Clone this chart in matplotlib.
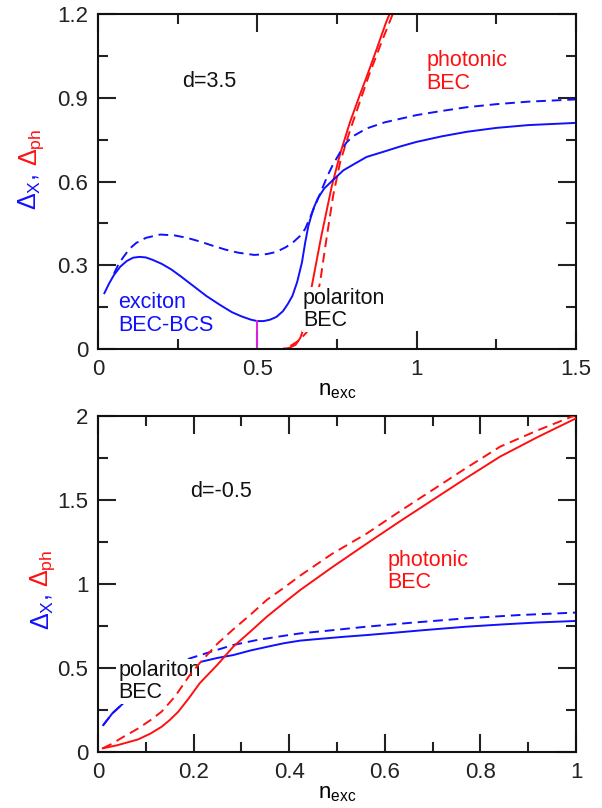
import matplotlib
matplotlib.use("Agg")
import matplotlib.pyplot as plt
from matplotlib.ticker import MultipleLocator, FuncFormatter

plt.rcParams['font.family'] = ['Liberation Sans', 'DejaVu Sans']
plt.rcParams['mathtext.fontset'] = 'custom'
plt.rcParams['mathtext.rm'] = 'Liberation Sans'
plt.rcParams['mathtext.it'] = 'Liberation Sans'
plt.rcParams['mathtext.default'] = 'regular'
# ticks: inward on all four sides
for a in ('xtick', 'ytick'):
    plt.rcParams[a + '.direction'] = 'in'
    plt.rcParams[a + '.major.size'] = 13
    plt.rcParams[a + '.minor.size'] = 7
    plt.rcParams[a + '.major.width'] = 1.5
    plt.rcParams[a + '.minor.width'] = 1.5
    plt.rcParams[a + '.color'] = '#222222'
    plt.rcParams[a + '.labelcolor'] = '#222222'
    plt.rcParams[a + '.labelsize'] = 16
    plt.rcParams[a + '.major.pad'] = 7
plt.rcParams['xtick.top'] = True
plt.rcParams['ytick.right'] = True

BLUE = '#1010ff'
RED = '#ff1010'

# ---------------- top panel (d = 3.5) ----------------
top_bx_solid_x = [0.02, 0.035, 0.05, 0.07, 0.09, 0.11, 0.13, 0.15, 0.17, 0.20, 0.23, 0.26, 0.30,
                  0.34, 0.38, 0.42, 0.45, 0.48, 0.50, 0.52, 0.54, 0.56, 0.58, 0.595, 0.61,
                  0.625, 0.64, 0.65, 0.66, 0.675, 0.69, 0.71, 0.737, 0.77, 0.80, 0.843, 0.90,
                  0.95, 1.0, 1.08, 1.157, 1.25, 1.35, 1.5]
top_bx_solid_y = [0.20, 0.235, 0.265, 0.295, 0.315, 0.327, 0.33, 0.328, 0.32, 0.305, 0.285, 0.26, 0.225,
                  0.19, 0.16, 0.132, 0.117, 0.105, 0.10, 0.10, 0.105, 0.115, 0.135, 0.16, 0.19,
                  0.24, 0.31, 0.38, 0.44, 0.50, 0.54, 0.575, 0.605, 0.64, 0.66, 0.688, 0.708,
                  0.726, 0.742, 0.762, 0.778, 0.792, 0.802, 0.81]

top_bx_dash_x = [0.05, 0.065, 0.08, 0.10, 0.12, 0.15, 0.195, 0.24, 0.28, 0.32, 0.36, 0.40, 0.44,
                 0.49, 0.53, 0.56, 0.59, 0.615, 0.634, 0.65, 0.665, 0.68, 0.70, 0.72, 0.737,
                 0.76, 0.78, 0.80, 0.843, 0.90, 1.0, 1.08, 1.157, 1.25, 1.35, 1.5]
top_bx_dash_y = [0.27, 0.305, 0.33, 0.36, 0.38, 0.398, 0.41, 0.407, 0.398, 0.385, 0.37, 0.356, 0.345,
                 0.337, 0.34, 0.348, 0.365, 0.385, 0.405, 0.43, 0.47, 0.51, 0.565, 0.62, 0.66,
                 0.705, 0.74, 0.762, 0.79, 0.812, 0.838, 0.853, 0.866, 0.877, 0.886, 0.894]

top_ph_solid_x = [0.02, 0.58, 0.60, 0.62, 0.635, 0.65, 0.66, 0.67, 0.70, 0.733, 0.76, 0.79,
                  0.82, 0.843, 0.87, 0.904, 0.915]
top_ph_solid_y = [0.0, 0.0, 0.004, 0.015, 0.04, 0.09, 0.14, 0.22, 0.40, 0.58, 0.70, 0.81,
                  0.905, 0.975, 1.06, 1.17, 1.2]

top_ph_dash_x = [0.02, 0.58, 0.60, 0.63, 0.655, 0.675, 0.697, 0.715, 0.738, 0.76, 0.79, 0.82,
                 0.85, 0.89, 0.925]
top_ph_dash_y = [0.0, 0.0, 0.008, 0.03, 0.06, 0.12, 0.24, 0.38, 0.55, 0.67, 0.78, 0.88,
                 0.98, 1.10, 1.2]

top_mag_x = [0.5, 0.5]
top_mag_y = [0.0, 0.10]

# ---------------- bottom panel (d = -0.5) ----------------
bot_bx_solid_x = [0.011, 0.03, 0.053, 0.10, 0.15, 0.19, 0.22, 0.25, 0.283, 0.32, 0.36, 0.39,
                  0.423, 0.47, 0.52, 0.562, 0.62, 0.68, 0.771, 0.85, 0.92, 1.0]
bot_bx_solid_y = [0.16, 0.23, 0.29, 0.40, 0.48, 0.52, 0.54, 0.56, 0.577, 0.605, 0.63, 0.648,
                  0.663, 0.675, 0.687, 0.696, 0.71, 0.725, 0.746, 0.76, 0.771, 0.78]

bot_bx_dash_x = [0.011, 0.03, 0.053, 0.10, 0.15, 0.192, 0.24, 0.283, 0.33, 0.38, 0.423, 0.48,
                 0.562, 0.65, 0.771, 0.88, 1.0]
bot_bx_dash_y = [0.16, 0.23, 0.29, 0.42, 0.50, 0.557, 0.60, 0.637, 0.665, 0.688, 0.706, 0.722,
                 0.746, 0.768, 0.796, 0.815, 0.83]

bot_ph_solid_x = [0.01, 0.04, 0.084, 0.11, 0.133, 0.15, 0.168, 0.19, 0.213, 0.25, 0.283, 0.32,
                  0.353, 0.39, 0.423, 0.49, 0.562, 0.63, 0.70, 0.77, 0.841, 0.92, 1.0]
bot_ph_solid_y = [0.022, 0.04, 0.075, 0.11, 0.15, 0.19, 0.24, 0.32, 0.41, 0.52, 0.627, 0.72,
                  0.805, 0.89, 0.964, 1.10, 1.24, 1.37, 1.50, 1.63, 1.758, 1.875, 1.986]

bot_ph_dash_x = [0.01, 0.03, 0.05, 0.084, 0.11, 0.133, 0.161, 0.19, 0.213, 0.25, 0.283, 0.32,
                 0.353, 0.39, 0.423, 0.49, 0.562, 0.63, 0.70, 0.77, 0.841, 0.92, 1.0]
bot_ph_dash_y = [0.022, 0.05, 0.085, 0.14, 0.19, 0.24, 0.33, 0.45, 0.53, 0.645, 0.73, 0.82,
                 0.905, 0.98, 1.05, 1.18, 1.30, 1.43, 1.56, 1.69, 1.817, 1.915, 2.006]

fig = plt.figure(figsize=(6.02, 8.08), dpi=100)
ax1 = fig.add_axes([98/602, 1-349/808, 478/602, 335/808])
ax2 = fig.add_axes([98/602, 1-752/808, 478/602, 336/808])

lw = 1.4
dash = (0, (5, 3))

ax1.plot(top_ph_solid_x, top_ph_solid_y, color=RED, lw=lw)
ax1.plot(top_ph_dash_x, top_ph_dash_y, color=RED, lw=lw, linestyle=dash)
ax1.plot(top_bx_solid_x, top_bx_solid_y, color=BLUE, lw=lw)
ax1.plot(top_bx_dash_x, top_bx_dash_y, color=BLUE, lw=lw, linestyle=dash)
ax1.plot(top_mag_x, top_mag_y, color='#e020e0', lw=lw)

ax2.plot(bot_bx_solid_x, bot_bx_solid_y, color=BLUE, lw=lw)
ax2.plot(bot_bx_dash_x, bot_bx_dash_y, color=BLUE, lw=lw, linestyle=dash)
ax2.plot(bot_ph_solid_x, bot_ph_solid_y, color=RED, lw=lw, zorder=6)
ax2.plot(bot_ph_dash_x, bot_ph_dash_y, color=RED, lw=lw, linestyle=dash, zorder=6)

ax1.set_xlim(0, 1.5)
ax1.set_ylim(0, 1.2)
ax1.xaxis.set_major_locator(MultipleLocator(0.5))
ax1.xaxis.set_minor_locator(MultipleLocator(0.25))
ax1.yaxis.set_major_locator(MultipleLocator(0.3))
ax1.yaxis.set_minor_locator(MultipleLocator(0.15))

ax2.set_xlim(0, 1)
ax2.set_ylim(0, 2)
ax2.xaxis.set_major_locator(MultipleLocator(0.2))
ax2.xaxis.set_minor_locator(MultipleLocator(0.1))
ax2.yaxis.set_major_locator(MultipleLocator(0.5))
ax2.yaxis.set_minor_locator(MultipleLocator(0.25))

for ax in (ax1, ax2):
    ax.xaxis.set_major_formatter(FuncFormatter(lambda v, p: '%g' % round(v, 3)))
    ax.yaxis.set_major_formatter(FuncFormatter(lambda v, p: '%g' % round(v, 3)))
    for s in ax.spines.values():
        s.set_linewidth(1.5)
        s.set_color('#111111')
    ax.set_xlabel('$n_{exc}$', fontsize=16, labelpad=0)

tfs = 15.5
white = dict(facecolor='white', edgecolor='none', pad=0.5)
ax1.text(0.35, 0.957, 'd=3.5', fontsize=tfs, ha='center', va='center', color='#111111')
ax1.text(0.063, 0.125, 'exciton\nBEC-BCS', fontsize=tfs, ha='left', va='center',
         color=BLUE, linespacing=1.1)
ax1.text(0.643, 0.142, 'polariton\nBEC', fontsize=tfs, ha='left', va='center',
         color='#111111', linespacing=1.1, bbox=white, zorder=5)
ax1.text(1.03, 0.993, 'photonic\nBEC', fontsize=tfs, ha='left', va='center',
         color=RED, linespacing=1.1)

ax2.text(0.257, 1.55, 'd=-0.5', fontsize=tfs, ha='center', va='center', color='#111111')
ax2.text(0.042, 0.42, 'polariton\nBEC', fontsize=tfs, ha='left', va='center',
         color='#111111', linespacing=1.1, bbox=white, zorder=5)
ax2.text(0.605, 1.075, 'photonic\nBEC', fontsize=tfs, ha='left', va='center',
         color=RED, linespacing=1.1)

# two-coloured y labels
yfs = 18
fig.text(37/602, 1-210/808, r'$\Delta_X$,', color=BLUE, fontsize=yfs, rotation=90,
         rotation_mode='anchor', ha='left', va='baseline')
fig.text(37/602, 1-166/808, r'$\Delta_{ph}$', color=RED, fontsize=yfs, rotation=90,
         rotation_mode='anchor', ha='left', va='baseline')
fig.text(50/602, 1-630/808, r'$\Delta_X$,', color=BLUE, fontsize=yfs, rotation=90,
         rotation_mode='anchor', ha='left', va='baseline')
fig.text(48/602, 1-587/808, r'$\Delta_{ph}$', color=RED, fontsize=yfs, rotation=90,
         rotation_mode='anchor', ha='left', va='baseline')

# tick marks set once more right before saving
for ax in (ax1, ax2):
    ax.tick_params(which='major', direction='in', length=13, width=1.5, color='#222222',
                   top=True, right=True, bottom=True, left=True)
    ax.tick_params(which='minor', direction='in', length=7, width=1.5, color='#222222',
                   top=True, right=True, bottom=True, left=True)

fig.savefig('out.png', dpi=100)
